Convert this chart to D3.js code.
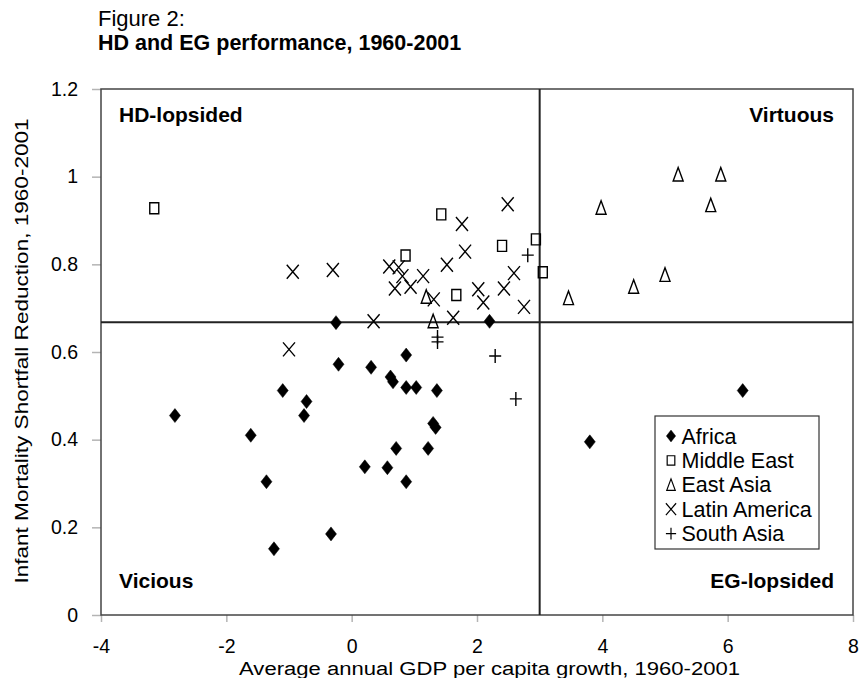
<!DOCTYPE html>
<html>
<head>
<meta charset="utf-8">
<script src="https://cdn.jsdelivr.net/npm/d3@7"></script>
<style>
  body { margin: 0; background: #fff; }
  text { font-family: "Liberation Sans", Arial, sans-serif; fill: #000; }
</style>
</head>
<body>
<svg id="chart" width="860" height="678"></svg>
<script>
/// Data ///
// [growth, IMSR] per region
const africa = [
    [-0.25, 0.667], [2.20, 0.670], [-0.21, 0.572], [0.31, 0.565], [0.87, 0.593],
    [0.62, 0.543], [0.66, 0.532], [0.87, 0.519], [1.03, 0.519], [1.36, 0.512],
    [-1.10, 0.512], [-0.72, 0.487], [-0.76, 0.455], [-2.82, 0.455], [-1.61, 0.410],
    [1.30, 0.437], [1.34, 0.428], [0.71, 0.380], [1.22, 0.380], [0.21, 0.338],
    [0.57, 0.336], [0.87, 0.304], [-1.36, 0.304], [-0.33, 0.185], [-1.24, 0.151],
    [3.80, 0.395], [6.24, 0.512]
];
const middleEast = [
    [-3.15, 0.928], [1.43, 0.914], [2.94, 0.857], [2.40, 0.842], [0.86, 0.820],
    [3.05, 0.782], [1.67, 0.730]
];
const eastAsia = [
    [5.21, 1.005], [5.89, 1.005], [3.98, 0.929], [5.73, 0.935], [5.00, 0.776],
    [4.50, 0.749], [3.46, 0.723], [1.19, 0.726], [1.30, 0.670]
];
const latinAmerica = [
    [-0.94, 0.783], [-0.30, 0.787], [-1.00, 0.606], [2.49, 0.937], [1.76, 0.892],
    [1.81, 0.829], [1.52, 0.799], [0.60, 0.795], [0.75, 0.793], [0.81, 0.773],
    [1.14, 0.773], [2.59, 0.780], [0.69, 0.745], [0.94, 0.749], [1.31, 0.720],
    [2.02, 0.743], [2.10, 0.713], [2.43, 0.745], [2.75, 0.703], [0.35, 0.670],
    [1.62, 0.678]
];
const southAsia = [
    [2.81, 0.821], [1.37, 0.634], [1.37, 0.623], [2.29, 0.591], [2.62, 0.493]
];

const regionNames = ["Africa", "Middle East", "East Asia", "Latin America", "South Asia"];
const xTicks = [-4, -2, 0, 2, 4, 6, 8];
const yTicks = [0, 0.2, 0.4, 0.6, 0.8, 1, 1.2];
const yTickLabels = ["0", "0.2", "0.4", "0.6", "0.8", "1", "1.2"];
// quadrant split lines
const xSplit = 3;
const ySplit = 0.668;

/// Markers ///
// each returns a path string centred on 0,0
const markers = {
    "Africa": function() { return "M0,-7L5.5,0L0,7L-5.5,0Z"; },
    "Middle East": function() { return "M-4.5,-5.5H4.5V5.5H-4.5Z"; },
    "East Asia": function() { return "M0,-7L5,6.5H-5Z"; },
    "Latin America": function() { return "M-6,-7L6,7M6,-7L-6,7"; },
    "South Asia": function() { return "M-6,0H6M0,-7V7"; }
};
const filled = { "Africa": true };

/// Chart ///
function drawChart() {
    const svg = d3.select("#chart");
    const left = 101, right = 853, top = 89, bottom = 615;

    const x = d3.scaleLinear().domain([-4, 8]).range([left, right]);
    const y = d3.scaleLinear().domain([0, 1.2]).range([bottom, top]);

    // titles
    svg.append("text").attr("x", 98).attr("y", 26)
        .style("font-size", "22px").text("Figure 2:");
    svg.append("text").attr("x", 98).attr("y", 50)
        .style("font-size", "21.5px").style("font-weight", "bold")
        .text("HD and EG performance, 1960-2001");

    // axes (plain hyphen for negatives, like the original)
    const xAxis = svg.append("g").attr("transform", "translate(0," + bottom + ")")
        .call(d3.axisBottom(x).tickValues(xTicks).tickSize(7).tickPadding(17)
            .tickFormat(function(d) { return String(d); }));
    const yAxis = svg.append("g").attr("transform", "translate(" + left + ",0)")
        .call(d3.axisLeft(y).tickValues(yTicks).tickSize(9).tickPadding(14)
            .tickFormat(function(d, i) { return yTickLabels[i]; }));
    [xAxis, yAxis].forEach(function(a) {
        a.select(".domain").remove();
        a.selectAll("line").attr("stroke", "#b4b4b4").attr("stroke-width", 1.5);
        a.selectAll("text").style("font-size", "19.5px").attr("fill", "#000");
    });

    // plot frame
    svg.append("rect").attr("x", left).attr("y", top)
        .attr("width", right - left).attr("height", bottom - top)
        .attr("fill", "none").attr("stroke", "#444").attr("stroke-width", 1.5);

    // quadrant lines
    svg.append("line").attr("x1", x(xSplit)).attr("x2", x(xSplit))
        .attr("y1", top).attr("y2", bottom).attr("stroke", "#222").attr("stroke-width", 2);
    svg.append("line").attr("x1", left).attr("x2", right)
        .attr("y1", y(ySplit)).attr("y2", y(ySplit)).attr("stroke", "#222").attr("stroke-width", 2);

    // quadrant labels
    const q = svg.append("g").style("font-size", "21px").style("font-weight", "bold");
    q.append("text").attr("x", 119).attr("y", 122).text("HD-lopsided");
    q.append("text").attr("x", 834).attr("y", 122).attr("text-anchor", "end").text("Virtuous");
    q.append("text").attr("x", 119).attr("y", 588).text("Vicious");
    q.append("text").attr("x", 834).attr("y", 588).attr("text-anchor", "end").text("EG-lopsided");

    // points
    const series = [africa, middleEast, eastAsia, latinAmerica, southAsia];
    series.forEach(function(data, i) {
        const name = regionNames[i];
        svg.append("g").selectAll("path")
            .data(data)
            .enter().append("path")
                .attr("transform", function(d) { return "translate(" + x(d[0]) + "," + y(d[1]) + ")"; })
                .attr("d", markers[name]())
                .attr("fill", filled[name] ? "#000" : "none")
                .attr("stroke", "#000")
                .attr("stroke-width", filled[name] ? 0.5 : 1.4);
    });

    // legend
    const lg = svg.append("g").attr("transform", "translate(655,416)");
    lg.append("rect").attr("width", 164).attr("height", 133)
        .attr("fill", "#fff").attr("stroke", "#333").attr("stroke-width", 1.2);
    regionNames.forEach(function(name, i) {
        const row = lg.append("g").attr("transform", "translate(0," + (20 + i * 24.4) + ")");
        row.append("path").attr("transform", "translate(16,0) scale(0.85)")
            .attr("d", markers[name]())
            .attr("fill", filled[name] ? "#000" : "none")
            .attr("stroke", "#000").attr("stroke-width", filled[name] ? 0.5 : 1.4);
        row.append("text").attr("x", 26.5).attr("y", 7.5).style("font-size", "21.5px").text(name);
    });

    // axis titles (wide, short lettering as in the original)
    svg.append("text").attr("transform", "translate(489.5,674.5) scale(1.24,1)")
        .attr("text-anchor", "middle").style("font-size", "17.8px")
        .text("Average annual GDP per capita growth, 1960-2001");
    svg.append("text").attr("transform", "translate(28,351) rotate(-90) scale(1.22,1)")
        .attr("text-anchor", "middle").style("font-size", "18.5px")
        .text("Infant Mortality Shortfall Reduction, 1960-2001");
}

drawChart();
</script>
</body>
</html>
